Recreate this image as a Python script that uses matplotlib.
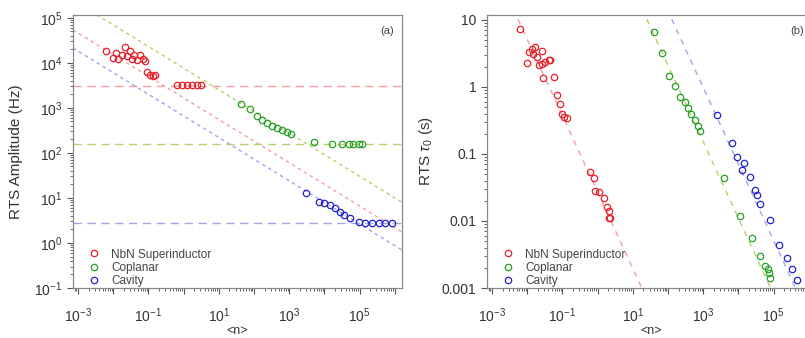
import numpy as np
import matplotlib
matplotlib.use("Agg")
import matplotlib.pyplot as plt
from matplotlib.ticker import LogLocator, FixedLocator, FixedFormatter, NullFormatter

plt.rcParams['font.family'] = ['Liberation Sans', 'DejaVu Sans']
plt.rcParams['mathtext.fontset'] = 'custom'
plt.rcParams['mathtext.rm'] = 'Liberation Sans'
plt.rcParams['mathtext.it'] = 'Liberation Sans:italic'

labels = ['NbN Superinductor', 'Coplanar', 'Cavity']
marker_colors = ['#e8202a', '#25a025', '#2222cc']
fit_colors = ['#f2a0a4', '#b8cf6a', '#a0a6ea']

# (a) RTS amplitude vs <n>
amp_n_nbn = [0.0063, 0.010, 0.0123, 0.0138, 0.0178, 0.022, 0.0245, 0.0295, 0.034, 0.038,
             0.048, 0.059, 0.071, 0.078, 0.091, 0.11, 0.135, 0.158,
             0.66, 0.91, 1.26, 1.77, 2.45, 3.1]
amp_nbn = [18600, 12600, 16300, 12000, 15100, 22300, 13800, 17800, 12000, 15100,
           11700, 15100, 12000, 10700, 6400, 5400, 5100, 5400,
           3150, 3250, 3250, 3250, 3250, 3250]
amp_n_cpw = [42, 77, 122, 170, 235, 325, 455, 630, 870, 1140,
             5200, 16000, 31000, 49000, 67000, 93000, 114000]
amp_cpw = [1230, 950, 665, 540, 465, 400, 360, 325, 295, 265,
           175, 160, 160, 160, 160, 160, 160]
amp_n_cav = [3080, 7200, 10000, 14000, 19400, 27000, 37000, 52000, 93000,
             140000, 220000, 350000, 520000, 820000]
amp_cav = [12.9, 8.1, 7.7, 7.0, 6.0, 4.9, 4.2, 3.6, 2.9,
           2.8, 2.8, 2.8, 2.8, 2.8]
amp_floor = [3000, 160, 2.8]
amp_fit_logc = [3.22, 3.88, 2.82]
amp_fit_slope = [-0.48, -0.48, -0.48]

# (b) RTS tau0 vs <n>
tau_n_nbn = [0.0063, 0.0098, 0.011, 0.014, 0.015, 0.017, 0.019, 0.026, 0.021, 0.026,
             0.033, 0.041, 0.045, 0.029, 0.056, 0.07, 0.087, 0.098, 0.11, 0.135,
             0.62, 0.77, 0.86, 1.07, 1.5, 1.85, 2.05, 2.05, 2.3]
tau_nbn = [7.2, 2.3, 3.3, 3.7, 3.1, 3.9, 2.8, 3.4, 2.1, 2.2,
           2.35, 2.5, 2.5, 1.35, 1.4, 0.75, 0.55, 0.39, 0.355, 0.34,
           0.054, 0.043, 0.028, 0.027, 0.022, 0.016, 0.014, 0.011, 0.011]
tau_n_cpw = [39, 67, 105, 162, 225, 300, 370, 460, 575, 710, 830,
             3800, 11300, 24400, 42000, 58000, 69000, 72000, 81000]
tau_cpw = [6.6, 3.2, 1.44, 1.02, 0.71, 0.6, 0.48, 0.40, 0.32, 0.26, 0.22,
           0.043, 0.012, 0.0055, 0.003, 0.0021, 0.0019, 0.00165, 0.0014]
tau_n_cav = [2460, 6600, 9100, 12700, 14400, 21800, 30000, 34000, 42000,
             81000, 140000, 240000, 330000, 460000]
tau_cav = [0.38, 0.143, 0.091, 0.057, 0.073, 0.045, 0.029, 0.024, 0.018,
           0.0105, 0.0044, 0.0028, 0.0019, 0.0013]
tau_fit_logc = [-1.57, 2.60, 3.41]
tau_fit_slope = [-1.14, -1.14, -1.14]

xlim = (7.2e-4, 1.6e6)
nfit = np.logspace(np.log10(xlim[0]), np.log10(xlim[1]), 200)
x_minor = (10.0 ** np.arange(-4, 7)[:, None] * np.arange(2, 10)[None, :]).ravel()
x_major = [1e-3, 1e-2, 1e-1, 1, 1e1, 1e2, 1e3, 1e4, 1e5, 1e6]

fig = plt.figure(figsize=(8.05, 3.38), dpi=100)
ax1 = fig.add_axes([73 / 805, 50 / 338, 329 / 805, 273 / 338])
ax2 = fig.add_axes([487 / 805, 50 / 338, 329 / 805, 273 / 338])

amp_sets = [(amp_n_nbn, amp_nbn), (amp_n_cpw, amp_cpw), (amp_n_cav, amp_cav)]
for i, (xs, ys) in enumerate(amp_sets):
    ax1.plot(nfit, 10 ** amp_fit_logc[i] * nfit ** amp_fit_slope[i], color=fit_colors[i],
             lw=1.0, ls=(0, (2.5, 2.5)), zorder=1)
    ax1.axhline(amp_floor[i], color=fit_colors[i], lw=1.0, ls=(0, (6, 4)), zorder=1)
for i, (xs, ys) in enumerate(amp_sets):
    ax1.plot(xs, ys, 'o', mfc='none', mec=marker_colors[i], ms=4.6, mew=0.9,
             label=labels[i], zorder=3)

tau_sets = [(tau_n_nbn, tau_nbn), (tau_n_cpw, tau_cpw), (tau_n_cav, tau_cav)]
for i, (xs, ys) in enumerate(tau_sets):
    ax2.plot(nfit, 10 ** tau_fit_logc[i] * nfit ** tau_fit_slope[i], color=fit_colors[i],
             lw=1.0, ls=(0, (4, 4)), zorder=1)
for i, (xs, ys) in enumerate(tau_sets):
    ax2.plot(xs, ys, 'o', mfc='none', mec=marker_colors[i], ms=4.6, mew=0.9,
             label=labels[i], zorder=3)

for ax in (ax1, ax2):
    ax.set_xscale('log')
    ax.set_yscale('log')
    ax.set_xlim(*xlim)
    ax.xaxis.set_major_locator(FixedLocator(x_major))
    ax.xaxis.set_major_formatter(FixedFormatter(['$10^{-3}$', '', '$10^{-1}$', '', '$10^{1}$', '',
                                                 '$10^{3}$', '', '$10^{5}$', '']))
    ax.xaxis.set_minor_locator(FixedLocator(x_minor))
    ax.xaxis.set_minor_formatter(NullFormatter())
    ax.tick_params(which='major', length=4, width=0.8, colors='#555555', labelsize=10,
                   labelcolor='#333333')
    ax.tick_params(which='minor', length=2.5, width=0.7, colors='#666666')
    ax.tick_params(axis='x', which='major', pad=9)
    ax.tick_params(top=False, right=False)
    for s in ax.spines.values():
        s.set_color('#888888')
        s.set_linewidth(0.9)
    ax.set_xlabel('<n>', fontsize=9, color='#333333', labelpad=0)
    ax.legend(loc='lower left', bbox_to_anchor=(0.02, -0.015), frameon=False, fontsize=8.5,
              handletextpad=0.7, labelspacing=0.12, borderaxespad=0.0, handlelength=1.6,
              labelcolor='#444444')

ax1.set_ylim(0.1, 1.15e5)
ax1.yaxis.set_major_locator(LogLocator(base=10, numticks=10))
ax1.yaxis.set_minor_locator(LogLocator(base=10, subs=np.arange(2, 10), numticks=20))
ax1.yaxis.set_minor_formatter(NullFormatter())
ax1.set_ylabel('RTS Amplitude (Hz)', fontsize=11, color='#333333', labelpad=8)
ax1.text(0.975, 0.93, '(a)', transform=ax1.transAxes, ha='right', fontsize=8, color='#444444')

ax2.set_ylim(1e-3, 11.8)
ax2.yaxis.set_major_locator(FixedLocator([1e-3, 1e-2, 1e-1, 1, 10]))
ax2.yaxis.set_major_formatter(FixedFormatter(['0.001', '0.01', '0.1', '1', '10']))
ax2.yaxis.set_minor_locator(LogLocator(base=10, subs=np.arange(2, 10), numticks=20))
ax2.yaxis.set_minor_formatter(NullFormatter())
ax2.set_ylabel(r'RTS $\tau_0$ (s)', fontsize=11, color='#333333', labelpad=5)
ax2.text(310 / 329, 0.93, '(b)', transform=ax2.transAxes, ha='center', fontsize=8,
         color='#444444')

fig.savefig('out.png', dpi=100)
